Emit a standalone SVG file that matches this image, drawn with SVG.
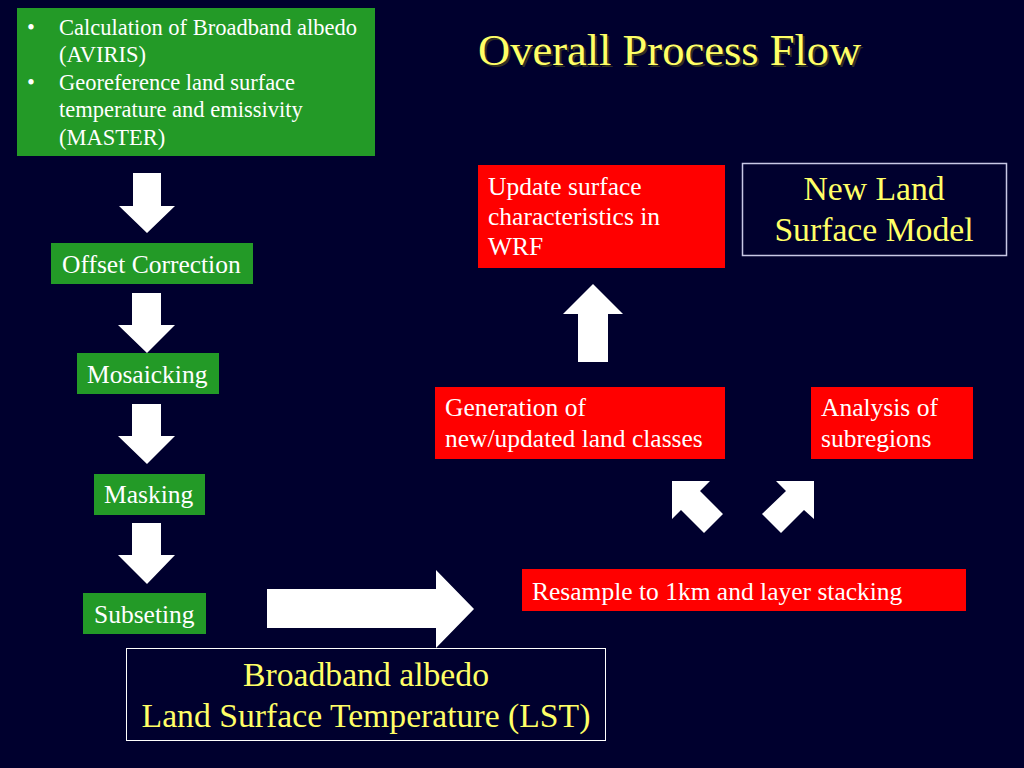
<svg xmlns="http://www.w3.org/2000/svg" width="1024" height="768" viewBox="0 0 1024 768">
<defs>
<style>
.bg{fill:#00002e}
.g{fill:#239a27}
.r{fill:#ff0000}
.t{font-family:"Liberation Serif","Times New Roman",serif;fill:#ffffff}
.s{font-size:25.5px}
.top{font-size:22.5px}
.y{font-family:"Liberation Serif","Times New Roman",serif;fill:#ffff66;font-size:33.7px}
.outline{fill:none;stroke:#ffffff;stroke-width:1}
.arrow{fill:#ffffff}
</style>
</defs>
<rect class="bg" x="0" y="0" width="1024" height="768"/>

<g id="title">
<text x="480" y="67" font-family="Liberation Serif,'Times New Roman',serif" font-size="44.5" fill="#333322">Overall Process Flow</text>
<text x="478" y="65" font-family="Liberation Serif,'Times New Roman',serif" font-size="44.5" fill="#ffff66">Overall Process Flow</text>
</g>

<g id="input">
<rect class="g" x="17" y="8" width="358" height="148"/>
<text class="t top" x="27" y="34.5">•</text>
<text class="t top" x="59" y="34.5">Calculation of Broadband albedo</text>
<text class="t top" x="59" y="62">(AVIRIS)</text>
<text class="t top" x="27" y="89.5">•</text>
<text class="t top" x="59" y="89.5">Georeference land surface</text>
<text class="t top" x="59" y="117">temperature and emissivity</text>
<text class="t top" x="59" y="144.5">(MASTER)</text>
</g>

<g id="offset">
<rect class="g" x="51" y="243" width="202" height="41"/>
<text class="t s" x="62" y="273">Offset Correction</text>
</g>

<g id="mosaicking">
<rect class="g" x="77" y="353" width="142" height="41"/>
<text class="t s" x="87" y="383">Mosaicking</text>
</g>

<g id="masking">
<rect class="g" x="94" y="474" width="111" height="41"/>
<text class="t s" x="104" y="503">Masking</text>
</g>

<g id="subseting">
<rect class="g" x="83" y="593" width="123" height="41"/>
<text class="t s" x="94" y="623">Subseting</text>
</g>

<g id="output">
<rect class="outline" x="126.5" y="648.5" width="479" height="92"/>
<text class="y" x="366" y="686" text-anchor="middle">Broadband albedo</text>
<text class="y" x="366" y="727" text-anchor="middle">Land Surface Temperature (LST)</text>
</g>

<g id="resample">
<rect class="r" x="522" y="569" width="444" height="42"/>
<text class="t s" x="532" y="600">Resample to 1km and layer stacking</text>
</g>

<g id="generation">
<rect class="r" x="435" y="387" width="290" height="72"/>
<text class="t s" x="445" y="416">Generation of</text>
<text class="t s" x="445" y="447">new/updated land classes</text>
</g>

<g id="analysis">
<rect class="r" x="811" y="387" width="162" height="72"/>
<text class="t s" x="821" y="416">Analysis of</text>
<text class="t s" x="821" y="447">subregions</text>
</g>

<g id="update">
<rect class="r" x="478" y="165" width="247" height="103"/>
<text class="t s" x="488" y="195">Update surface</text>
<text class="t s" x="488" y="225">characteristics in</text>
<text class="t s" x="488" y="255">WRF</text>
</g>

<g id="lsm">
<rect x="742.5" y="163.5" width="264" height="92" fill="none" stroke="#c8c8e6" stroke-width="1.5"/>
<text class="y" x="874" y="200" text-anchor="middle">New Land</text>
<text class="y" x="874" y="241" text-anchor="middle">Surface Model</text>
</g>

<g id="connectors">
<polygon class="arrow" points="133,173 161,173 161,206 175,206 147,233 119,206 133,206"/>
<polygon class="arrow" points="132,293 161,293 161,325 175,325 147,353 118,325 132,325"/>
<polygon class="arrow" points="132,404 161,404 161,436 175,436 147,464 118,436 132,436"/>
<polygon class="arrow" points="132,523 161,523 161,555 175,555 147,584 118,555 132,555"/>
<polygon class="arrow" points="267,589 436,589 436,570 474,609 436,648 436,628 267,628"/>
<polygon class="arrow" points="578,362 608,362 608,314 623,314 593,284 563,314 578,314"/>
<polygon class="arrow" points="672,481 710,481 700,491 723,514 704,533 681,510 672,519"/>
<polygon class="arrow" points="814,481 776,481 786,491 762,514 781,533 804,510 814,519"/>
</g>
</svg>
